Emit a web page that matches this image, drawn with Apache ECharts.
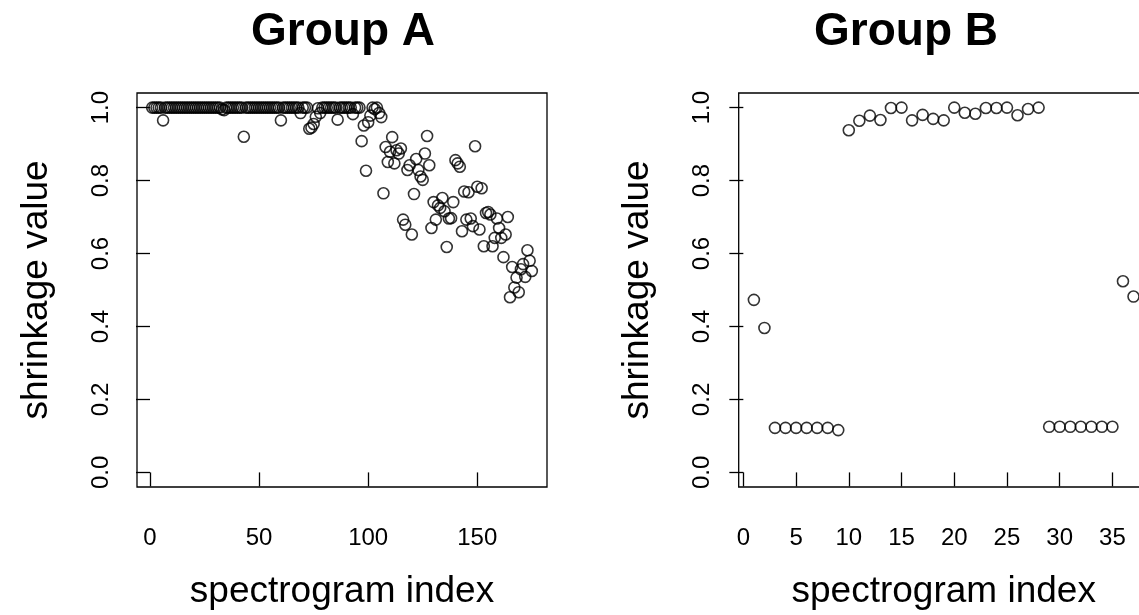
<!DOCTYPE html>
<html>
<head>
<meta charset="utf-8">
<script src="https://cdn.jsdelivr.net/npm/echarts@6/dist/echarts.min.js"></script>
<style>
  html, body { margin: 0; background: #fff; overflow: hidden; }
  /* wider than the window: the right panel runs past the edge like the original */
  #chart { width: 1170px; height: 615px; }
</style>
</head>
<body>
<div id="chart"></div>
<script>
// shrinkage values, index = position + 1
const groupA = [
  1, 1, 1, 1, 1, 0.965, 1, 1, 1, 1,
  1, 1, 1, 1, 1, 1, 1, 1, 1, 1,
  1, 1, 1, 1, 1, 1, 1, 1, 1, 1,
  1, 1, 0.995, 0.993, 1, 1, 1, 1, 1, 1,
  1, 1, 0.92, 1, 1, 1, 1, 1, 1, 1,
  1, 1, 1, 1, 1, 1, 1, 1, 1, 0.965,
  1, 1, 1, 1, 1, 1, 1, 1, 0.985, 1,
  1, 1, 0.942, 0.945, 0.955, 0.975, 0.998, 0.985, 1, 1,
  1, 1, 1, 1, 1, 0.967, 1, 1, 1, 1,
  1, 1, 0.982, 1, 1, 1, 0.908, 0.951, 0.827, 0.96,
  0.978, 1, 0.996, 1, 0.985, 0.974, 0.765, 0.892, 0.851, 0.879,
  0.919, 0.847, 0.883, 0.874, 0.888, 0.693, 0.679, 0.829, 0.842, 0.652,
  0.763, 0.859, 0.829, 0.811, 0.802, 0.874, 0.922, 0.842, 0.670, 0.741,
  0.693, 0.732, 0.725, 0.752, 0.716, 0.618, 0.696, 0.697, 0.741, 0.856,
  0.847, 0.838, 0.661, 0.770, 0.693, 0.768, 0.696, 0.675, 0.894, 0.783,
  0.666, 0.779, 0.620, 0.711, 0.714, 0.707, 0.620, 0.643, 0.696, 0.670,
  0.643, 0.590, 0.652, 0.700, 0.480, 0.563, 0.507, 0.534, 0.494, 0.557,
  0.571, 0.536, 0.609, 0.580, 0.552
];
const groupB = [
  0.473, 0.396, 0.122, 0.122, 0.122, 0.122, 0.122, 0.122, 0.116, 0.938,
  0.964, 0.978, 0.966, 0.999, 1.0, 0.965, 0.980, 0.969, 0.965, 1.0,
  0.986, 0.983, 0.999, 0.999, 1.0, 0.979, 0.996, 1.0, 0.125, 0.125,
  0.125, 0.125, 0.125, 0.125, 0.125, 0.524, 0.482
];
const titles = ["Group A", "Group B"];
const yTicks = [0, 0.2, 0.4, 0.6, 0.8, 1.0];
const xTicksA = [0, 50, 100, 150];
const xTicksB = [0, 5, 10, 15, 20, 25, 30, 35];

const FONT = "Liberation Sans";
const chart = echarts.init(document.getElementById("chart"));

// R style axis range: data range padded by 4%
const padRange = (n) => [1 - (n - 1) * 0.04, n + (n - 1) * 0.04];

const makeX = (gi, n, ticks) => {
  const [mn, mx] = padRange(n);
  return {
    type: "value", gridIndex: gi, min: mn, max: mx,
    axisLine: { show: false },
    splitLine: { show: false },
    axisTick: { show: true, customValues: ticks, length: 14, lineStyle: { color: "#000", width: 1.3 } },
    axisLabel: { customValues: ticks, margin: 39, fontSize: 24, color: "#000", fontFamily: FONT },
    name: "spectrogram index",
    nameLocation: "middle",
    nameGap: 86,
    nameTextStyle: { fontSize: 37, color: "#000", fontFamily: FONT }
  };
};

const makeY = (gi) => ({
  type: "value", gridIndex: gi, min: -0.04, max: 1.04,
  axisLine: { show: false },
  splitLine: { show: false },
  axisTick: { show: true, customValues: yTicks, length: 14, lineStyle: { color: "#000", width: 1.3 } },
  axisLabel: {
    customValues: yTicks, rotate: 90, margin: 24, fontSize: 24, color: "#000", fontFamily: FONT,
    formatter: (v) => v.toFixed(1)
  },
  name: "shrinkage value",
  nameLocation: "middle",
  nameRotate: 90,
  nameGap: 82,
  nameTextStyle: { fontSize: 37, color: "#000", fontFamily: FONT }
});

const pointStyle = { color: "rgba(0,0,0,0)", borderColor: "#000", borderWidth: 1.6 };

const option = {
  animation: false,
  backgroundColor: "#fff",
  title: [
    { text: titles[0], left: 343, top: 9, padding: 0, textAlign: "center",
      textStyle: { fontSize: 46, fontWeight: "bold", color: "#000", fontFamily: FONT } },
    { text: titles[1], left: 906, top: 9, padding: 0, textAlign: "center",
      textStyle: { fontSize: 46, fontWeight: "bold", color: "#000", fontFamily: FONT } }
  ],
  grid: [
    { left: 137, top: 93, width: 410, height: 396, show: true, borderColor: "#000", borderWidth: 1.3, backgroundColor: "transparent" },
    { left: 738.7, top: 93, width: 410, height: 396, show: true, borderColor: "#000", borderWidth: 1.3, backgroundColor: "transparent" }
  ],
  xAxis: [makeX(0, groupA.length, xTicksA), makeX(1, groupB.length, xTicksB)],
  yAxis: [makeY(0), makeY(1)],
  series: [
    {
      type: "scatter", xAxisIndex: 0, yAxisIndex: 0,
      symbol: "circle", symbolSize: 11, itemStyle: pointStyle,
      data: groupA.map((v, i) => [i + 1, v])
    },
    {
      type: "scatter", xAxisIndex: 1, yAxisIndex: 1,
      symbol: "circle", symbolSize: 11, itemStyle: pointStyle,
      data: groupB.map((v, i) => [i + 1, v])
    }
  ]
};

chart.setOption(option);
window.addEventListener("resize", () => chart.resize());
</script>
</body>
</html>
